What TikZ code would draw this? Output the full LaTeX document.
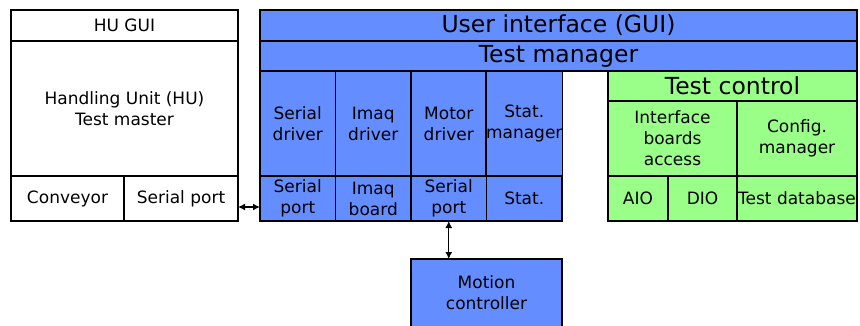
\documentclass[tikz,border=0pt]{standalone}
\usepackage{fontspec}
\setmainfont{DejaVu Sans}
\usetikzlibrary{arrows.meta,positioning}
\definecolor{blockblue}{RGB}{100,142,255}
\definecolor{blockgreen}{RGB}{153,255,136}
\begin{document}
\begin{tikzpicture}[x=1pt, y=-1pt]
\tikzstyle{cell}=[draw, line width=1.2pt, rectangle, inner sep=0pt, outer sep=0pt, align=center, font=\fontsize{17}{21}\selectfont]
\tikzstyle{hucell}=[cell, fill=white]
\tikzstyle{bluecell}=[cell, fill=blockblue]
\tikzstyle{greencell}=[cell, fill=blockgreen]
\tikzstyle{bigtext}=[font=\fontsize{23.5}{28}\selectfont]
\tikzstyle{link}=[line width=1.3pt, {Latex[length=7pt,width=7pt]}-{Latex[length=7pt,width=7pt]}]
\useasboundingbox (0,0) rectangle (860,325);

\node[hucell, minimum width=227, minimum height=31] (hugui) at (124.5, 25.5) {HU GUI};
\node[hucell, minimum width=227, minimum height=135] (humaster) at (124.5, 108.5) {Handling Unit (HU)\\Test master};
\node[hucell, minimum width=113, minimum height=45] (conveyor) at (67.5, 198.5) {Conveyor};
\node[hucell, minimum width=114, minimum height=45] (huserial) at (181, 198.5) {Serial port};

\node[bluecell, bigtext, minimum width=597, minimum height=31] (gui) at (558.5, 25.5) {User interface (GUI)};
\node[bluecell, bigtext, minimum width=597, minimum height=30] (testmgr) at (558.5, 56) {Test manager};
\node[bluecell, minimum width=75.5, minimum height=105] (sdriver) at (297.75, 123.5) {Serial\\driver};
\node[bluecell, minimum width=75.5, minimum height=105] (idriver) at (373.25, 123.5) {Imaq\\driver};
\node[bluecell, minimum width=75.5, minimum height=105] (mdriver) at (448.75, 123.5) {Motor\\driver};
\node[bluecell, minimum width=75.5, minimum height=105] (statmgr) at (524.25, 123.5) {Stat.\\manager};
\node[bluecell, minimum width=75.5, minimum height=45] (sport) at (297.75, 198.5) {Serial\\port};
\node[bluecell, minimum width=75.5, minimum height=45] (iboard) at (373.25, 198.5) {Imaq\\board};
\node[bluecell, minimum width=75.5, minimum height=45] (mport) at (448.75, 198.5) {Serial\\port};
\node[bluecell, minimum width=75.5, minimum height=45] (stat) at (524.25, 198.5) {Stat.};

\node[greencell, bigtext, minimum width=249, minimum height=30] (testctrl) at (732.5, 86) {Test control};
\node[greencell, minimum width=129, minimum height=75] (ifaccess) at (672.5, 138.5) {Interface\\boards\\access};
\node[greencell, minimum width=120, minimum height=75] (cfgmgr) at (797, 138.5) {Config.\\manager};
\node[greencell, minimum width=60, minimum height=45] (aio) at (638, 198.5) {AIO};
\node[greencell, minimum width=69, minimum height=45] (dio) at (702.5, 198.5) {DIO};
\node[greencell, minimum width=120, minimum height=45] (testdb) at (797, 198.5) {Test database};

\node[bluecell, minimum width=151, minimum height=68] (motion) at (486.5, 293) {Motion\\controller};

\draw[link] ([yshift=-8.5pt]huserial.east) -- ([yshift=-8.5pt]sport.west);
\draw[link] (mport.south) -- (mport.south |- motion.north);
\end{tikzpicture}
\end{document}
